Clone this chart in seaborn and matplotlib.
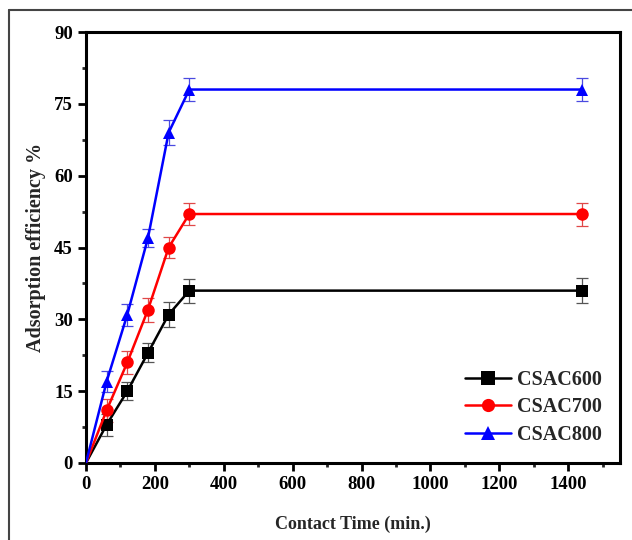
import numpy as np
import pandas as pd
import matplotlib
matplotlib.use("Agg")
import matplotlib.pyplot as plt
from matplotlib.lines import Line2D
from matplotlib.ticker import MultipleLocator
import seaborn as sns

# Contact time (min) and adsorption efficiency (%) for each carbon
time_min = [0, 60, 120, 180, 240, 300, 1440]
csac600 = [0, 8, 15, 23, 31, 36, 36]
csac700 = [0, 11, 21, 32, 45, 52, 52]
csac800 = [0, 17, 31, 47, 69, 78, 78]
err600 = [0, 2.3, 1.9, 2.0, 2.7, 2.5, 2.6]
err700 = [0, 2.4, 2.4, 2.5, 2.2, 2.3, 2.4]
err800 = [0, 2.2, 2.3, 1.9, 2.6, 2.4, 2.4]
samples = ["CSAC600", "CSAC700", "CSAC800"]

sns.set_theme(style="ticks")
plt.rcParams["font.family"] = ["Liberation Serif", "DejaVu Serif"]
plt.rcParams["font.weight"] = "bold"

series = {"CSAC600": (csac600, err600),
          "CSAC700": (csac700, err700),
          "CSAC800": (csac800, err800)}
df = pd.DataFrame({
    "time": np.tile(time_min, 3),
    "eff": np.concatenate([series[s][0] for s in samples]),
    "sample": np.repeat(samples, len(time_min)),
})

colors = {"CSAC600": "#000000", "CSAC700": "#ff0000", "CSAC800": "#0000ff"}
err_colors = {"CSAC600": "#555555", "CSAC700": "#e04848", "CSAC800": "#4a4ae0"}
markers = {"CSAC600": "s", "CSAC700": "o", "CSAC800": "^"}

fig = plt.figure(figsize=(6.32, 5.40), dpi=100)
ax = fig.add_axes([0.136, 0.1426, 0.845, 0.798])

# thin frame around the figure (left and top edges)
fig.add_artist(Line2D([0.0145, 0.0145], [0.0, 0.982], transform=fig.transFigure,
                      color="#444444", lw=1.5))
fig.add_artist(Line2D([0.0145, 1.0], [0.982, 0.982], transform=fig.transFigure,
                      color="#444444", lw=1.5))

for s in samples:
    vals, errs = series[s]
    ax.errorbar(time_min[1:], vals[1:], yerr=errs[1:], fmt="none",
                ecolor=err_colors[s], elinewidth=0.9, capsize=4, capthick=0.9,
                zorder=2)

sns.lineplot(data=df, x="time", y="eff", hue="sample", style="sample",
             palette=colors, markers=markers, dashes=False, errorbar=None,
             linewidth=1.8, markersize=9, markeredgewidth=0,
             markevery=list(range(1, len(time_min))), ax=ax, zorder=3,
             legend=False)

ax.set_xlim(0, 1550)
ax.set_ylim(0, 90)
ax.xaxis.set_major_locator(MultipleLocator(200))
ax.xaxis.set_minor_locator(MultipleLocator(100))
ax.yaxis.set_major_locator(MultipleLocator(15))
ax.yaxis.set_minor_locator(MultipleLocator(7.5))
ax.tick_params(which="major", direction="out", length=5.5, width=2,
               labelsize=13.5, pad=4, colors="black")
ax.tick_params(which="minor", direction="out", length=3, width=2)
for lab in ax.get_xticklabels() + ax.get_yticklabels():
    lab.set_fontweight("bold")
for sp in ax.spines.values():
    sp.set_linewidth(2.2)
    sp.set_color("black")

ax.set_xlabel("Contact Time (min.)", fontsize=13, fontweight="bold", labelpad=16)
ax.set_ylabel("Adsorption efficiency %", fontsize=14.5, fontweight="bold", labelpad=6)

handles = [Line2D([], [], color=colors[s], marker=markers[s], lw=1.8,
                  markersize=9.5, markeredgewidth=0) for s in samples]
leg = ax.legend(handles, samples, loc="lower right", frameon=False,
                prop={"family": "Liberation Serif", "weight": "bold", "size": 14.5},
                handlelength=2.3, handletextpad=0.3, labelspacing=0.38,
                bbox_to_anchor=(1.0, 0.0))

fig.savefig("out.png", dpi=100, facecolor="white")
